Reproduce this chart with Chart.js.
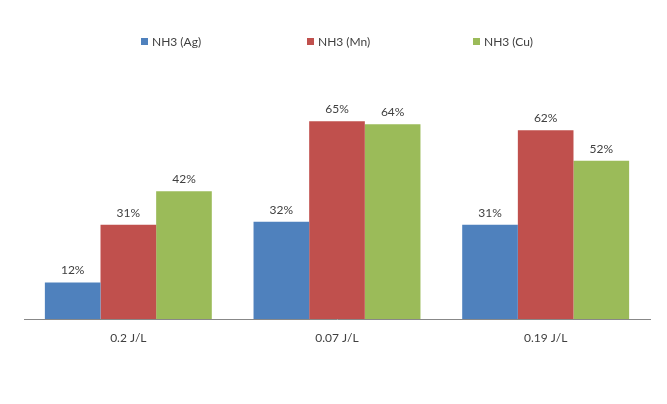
<!DOCTYPE html>
<html>
<head>
<meta charset="utf-8">
<script src="https://cdn.jsdelivr.net/npm/chart.js@4.4.1/dist/chart.umd.min.js"></script>
<style>
  html, body { margin: 0; padding: 0; background: #ffffff; }
  #wrap { width: 667px; height: 404px; position: relative; }
</style>
</head>
<body>
<div id="wrap"><canvas id="c" width="667" height="404"></canvas></div>
<script>
const categories = ["0.2 J/L", "0.07 J/L", "0.19 J/L"];
const seriesNames = ["NH3 (Ag)", "NH3 (Mn)", "NH3 (Cu)"];
const agValues = [12, 32, 31];
const mnValues = [31, 65, 62];
const cuValues = [42, 64, 52];
const colors = ["#4F81BD", "#C0504D", "#9BBB59"];

const FONT = "Lato, 'Open Sans', sans-serif";
const TEXT = "#404040";

const customLegend = {
  id: 'customLegend',
  afterDraw(chart) {
    const ctx = chart.ctx;
    ctx.save();
    ctx.font = "12px " + FONT;
    ctx.textBaseline = 'middle';
    ctx.textAlign = 'left';
    const step = 166;
    const box = 7;
    const gap = 4;
    const items = chart.data.datasets;
    const lastW = box + gap + ctx.measureText(items[items.length - 1].label).width;
    const total = step * (items.length - 1) + lastW;
    const cx = (chart.chartArea.left + chart.chartArea.right) / 2;
    let x = Math.round(cx - total / 2);
    const y = 42;
    items.forEach((ds) => {
      ctx.fillStyle = ds.backgroundColor;
      ctx.fillRect(x, y - 4, box, box);
      ctx.fillStyle = TEXT;
      ctx.fillText(ds.label, x + box + gap, y);
      x += step;
    });
    ctx.restore();
  }
};

const valueLabels = {
  id: 'valueLabels',
  afterDatasetsDraw(chart) {
    const ctx = chart.ctx;
    ctx.save();
    ctx.font = "12px " + FONT;
    ctx.fillStyle = TEXT;
    ctx.textAlign = 'center';
    ctx.textBaseline = 'bottom';
    chart.data.datasets.forEach((ds, i) => {
      const meta = chart.getDatasetMeta(i);
      meta.data.forEach((bar, j) => {
        ctx.fillText(ds.data[j] + "%", bar.x, bar.y - 6);
      });
    });
    ctx.restore();
  }
};

new Chart(document.getElementById('c'), {
  type: 'bar',
  data: {
    labels: categories,
    datasets: [
      { label: seriesNames[0], data: agValues, backgroundColor: colors[0] },
      { label: seriesNames[1], data: mnValues, backgroundColor: colors[1] },
      { label: seriesNames[2], data: cuValues, backgroundColor: colors[2] }
    ]
  },
  options: {
    responsive: false,
    animation: false,
    devicePixelRatio: 1,
    layout: { padding: { top: 106, left: 24, right: 17, bottom: 0 } },
    datasets: { bar: { categoryPercentage: 0.8, barPercentage: 1.0, borderWidth: 0 } },
    plugins: {
      legend: { display: false },
      tooltip: { enabled: false }
    },
    scales: {
      x: {
        grid: { display: false, drawTicks: false },
        border: { display: true, color: '#888888', width: 1 },
        ticks: { color: TEXT, font: { family: FONT, size: 12 }, padding: 12 },
        afterFit(scale) { scale.height = 85; }
      },
      y: {
        display: false,
        min: 0,
        max: 70
      }
    }
  },
  plugins: [customLegend, valueLabels]
});
</script>
</body>
</html>
